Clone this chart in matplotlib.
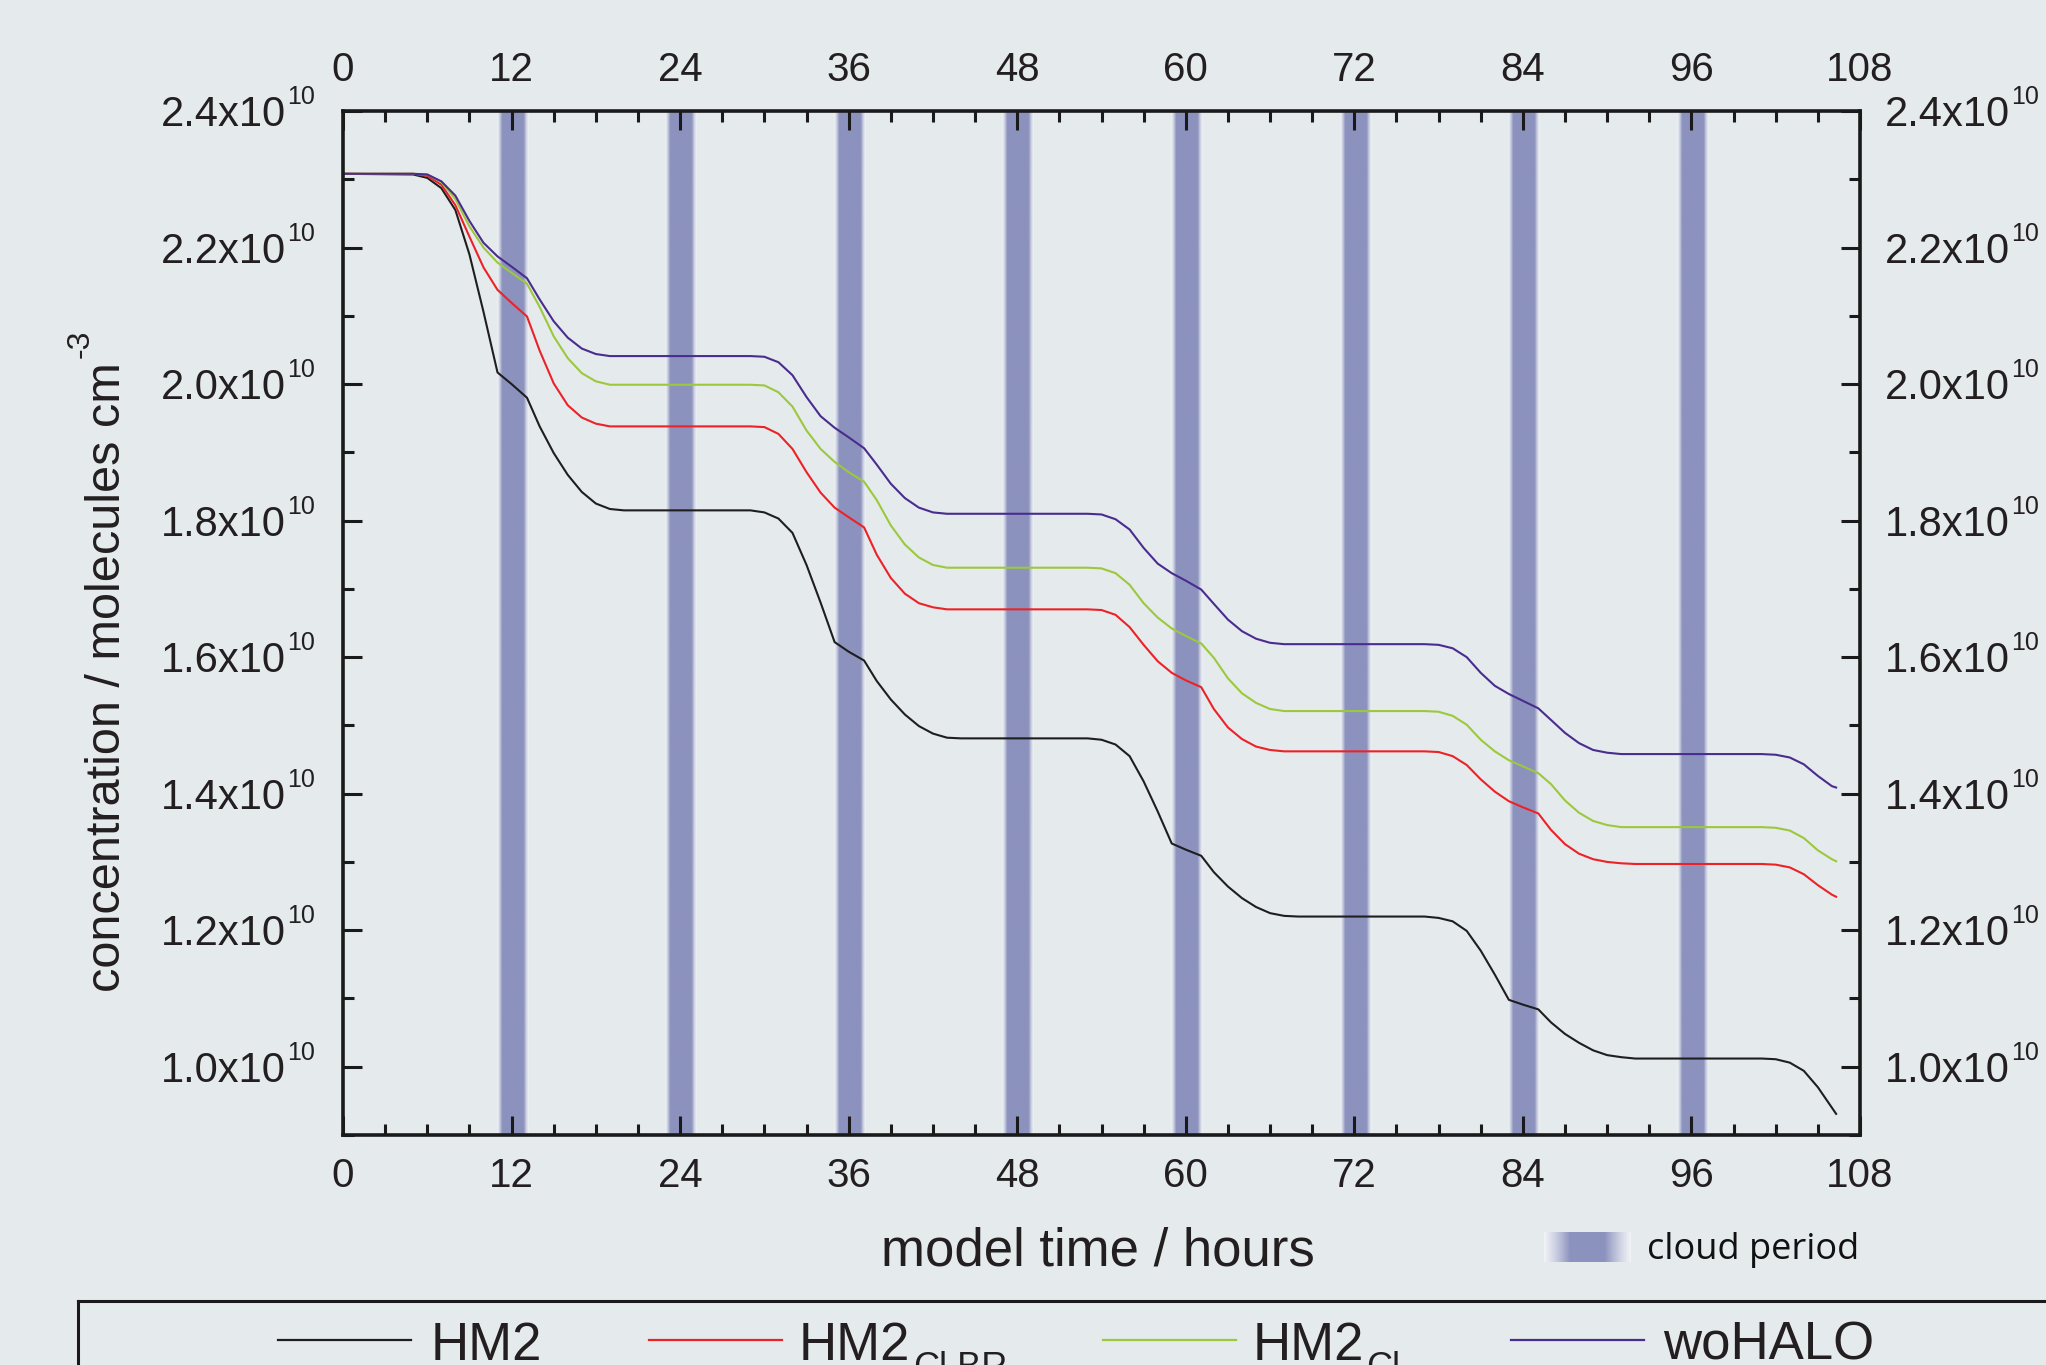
import numpy as np
import matplotlib
matplotlib.use("Agg")
import matplotlib.pyplot as plt
from matplotlib.lines import Line2D

# ---------------- data (concentration in units of 1e10 molecules cm^-3) ----------------
hours = [0,
         5, 6, 7, 8, 9, 10, 11, 12, 13.1, 14, 15, 16, 17, 18, 19, 20,
         29, 30, 31, 32, 33, 34, 35, 36, 37.1, 38, 39, 40, 41, 42, 43, 44,
         53, 54, 55, 56, 57, 58, 59, 60, 61.1, 62, 63, 64, 65, 66, 67, 68,
         77, 78, 79, 80, 81, 82, 83, 84, 85.1, 86, 87, 88, 89, 90, 91, 92,
         101, 102, 103, 104, 105, 106, 106.3]

hm2 = [2.308,
       2.307, 2.302, 2.287, 2.255, 2.190, 2.106, 2.017, 2.000, 1.980, 1.938, 1.899, 1.867, 1.842, 1.825, 1.817, 1.815,
       1.815, 1.812, 1.803, 1.782, 1.735, 1.680, 1.622, 1.608, 1.595, 1.565, 1.538, 1.516, 1.499, 1.488, 1.482, 1.481,
       1.481, 1.479, 1.472, 1.455, 1.418, 1.374, 1.327, 1.318, 1.309, 1.285, 1.264, 1.247, 1.234, 1.225, 1.221, 1.220,
       1.220, 1.218, 1.213, 1.199, 1.170, 1.135, 1.098, 1.091, 1.084, 1.065, 1.048, 1.035, 1.024, 1.017, 1.014, 1.012,
       1.012, 1.011, 1.006, 0.994, 0.970, 0.940, 0.931]

hm2_clbr = [2.308,
            2.308, 2.305, 2.292, 2.262, 2.216, 2.171, 2.138, 2.119, 2.099, 2.049, 2.001, 1.969, 1.951, 1.942, 1.938, 1.938,
            1.938, 1.937, 1.927, 1.905, 1.871, 1.841, 1.819, 1.805, 1.790, 1.750, 1.716, 1.693, 1.679, 1.673, 1.670, 1.670,
            1.670, 1.669, 1.662, 1.644, 1.618, 1.594, 1.577, 1.566, 1.556, 1.524, 1.497, 1.480, 1.469, 1.464, 1.462, 1.462,
            1.462, 1.461, 1.455, 1.442, 1.421, 1.403, 1.389, 1.380, 1.371, 1.347, 1.326, 1.312, 1.304, 1.300, 1.298, 1.297,
            1.297, 1.296, 1.292, 1.282, 1.266, 1.252, 1.249]

hm2_cl = [2.308,
          2.308, 2.307, 2.296, 2.271, 2.231, 2.200, 2.178, 2.163, 2.147, 2.113, 2.070, 2.038, 2.016, 2.004, 1.999, 1.999,
          1.999, 1.998, 1.988, 1.967, 1.932, 1.905, 1.886, 1.871, 1.857, 1.830, 1.793, 1.765, 1.746, 1.735, 1.731, 1.731,
          1.731, 1.730, 1.723, 1.706, 1.679, 1.658, 1.642, 1.631, 1.620, 1.599, 1.569, 1.547, 1.533, 1.524, 1.521, 1.521,
          1.521, 1.520, 1.514, 1.501, 1.479, 1.462, 1.449, 1.440, 1.430, 1.414, 1.390, 1.372, 1.360, 1.354, 1.351, 1.351,
          1.351, 1.350, 1.346, 1.335, 1.317, 1.304, 1.301]

wohalo = [2.308,
          2.308, 2.307, 2.297, 2.276, 2.239, 2.207, 2.187, 2.172, 2.155, 2.124, 2.092, 2.068, 2.052, 2.044, 2.041, 2.041,
          2.041, 2.040, 2.032, 2.013, 1.981, 1.953, 1.936, 1.922, 1.906, 1.882, 1.854, 1.833, 1.819, 1.812, 1.810, 1.810,
          1.810, 1.809, 1.802, 1.787, 1.760, 1.737, 1.723, 1.712, 1.699, 1.678, 1.655, 1.638, 1.627, 1.621, 1.619, 1.619,
          1.619, 1.618, 1.613, 1.600, 1.577, 1.558, 1.546, 1.536, 1.525, 1.508, 1.489, 1.474, 1.464, 1.460, 1.458, 1.458,
          1.458, 1.457, 1.453, 1.443, 1.426, 1.411, 1.409]

cloud_start = [10.95, 22.95, 34.95, 46.95, 58.95, 70.95, 82.95, 94.95]
cloud_end = [13.2, 25.2, 37.2, 49.2, 61.2, 73.2, 85.2, 97.2]

x_ticks = [0, 12, 24, 36, 48, 60, 72, 84, 96, 108]
y_ticks = [1.0, 1.2, 1.4, 1.6, 1.8, 2.0, 2.2, 2.4]
y_tick_labels = ["1.0x10", "1.2x10", "1.4x10", "1.6x10", "1.8x10", "2.0x10", "2.2x10", "2.4x10"]
y_tick_exp = "10"

series_names = ["HM2", "HM2", "HM2", "woHALO"]
series_subs = ["", "Cl,BR", "Cl", ""]
series_colors = ["#1e1e1e", "#ec2227", "#9cc83c", "#4a2c8e"]

# ---------------- styling ----------------
BG = "#e5eaed"
TXT = "#231f20"
FONT = "Liberation Sans"
plt.rcParams["font.family"] = [FONT, "DejaVu Sans"]

W, H = 2046, 1365
fig = plt.figure(figsize=(W / 100, H / 100), dpi=100, facecolor=BG)

ax = fig.add_axes([343 / W, 1 - 1135 / H, (1860 - 343) / W, (1135 - 111) / H])
ax.patch.set_alpha(0)

# cloud bands with soft gradient edges
core = np.array([140, 146, 190]) / 255.0
n = 200
u = np.linspace(0, 1, n)
d = np.minimum(u, 1 - u) * 2
w = np.clip(d / 0.32, 0, 1) ** 0.9
rgba = np.zeros((1, n, 4))
rgba[0, :, :3] = (1 - w)[:, None] * np.array([1, 1, 1]) + w[:, None] * core
rgba[0, :, 3] = 0.35 + 0.65 * w

ymin, ymax = 0.9, 2.4
for s, e in zip(cloud_start, cloud_end):
    ax.imshow(rgba, extent=(s, e, ymin, ymax), aspect="auto", zorder=1,
              interpolation="bilinear")

for vals, col in zip([hm2, hm2_clbr, hm2_cl, wohalo], series_colors):
    ax.plot(hours, vals, color=col, lw=1.5, zorder=3)

ax.set_xlim(0, 108)
ax.set_ylim(ymin, ymax)

for sp in ax.spines.values():
    sp.set_linewidth(2.6)
    sp.set_color("#1a1a1a")
    sp.set_zorder(5)

ax.set_xticks(x_ticks)
ax.set_xticks(np.arange(0, 109, 3), minor=True)
ax.set_xticklabels([str(t) for t in x_ticks])
ax.set_yticks(y_ticks)
ax.set_yticks(np.arange(0.9, 2.41, 0.1), minor=True)
ax.set_yticklabels([])

ax.tick_params(axis="x", which="both", direction="in", top=True, bottom=True,
               labeltop=True, labelbottom=True, colors="#1a1a1a", labelcolor=TXT,
               labelsize=29)
ax.tick_params(axis="x", which="major", length=14, width=2.2)
ax.tick_params(axis="x", which="minor", length=8, width=2.2)
ax.tick_params(axis="y", which="both", direction="in", left=True, right=True,
               colors="#1a1a1a")
ax.tick_params(axis="y", which="major", length=14, width=2.2)
ax.tick_params(axis="y", which="minor", length=8, width=2.2)
for t in ax.xaxis.get_major_ticks():
    t.set_pad(16)

# y tick labels (left and right) built from main text + small superscript
for v, lab in zip(y_ticks, y_tick_labels):
    ax.annotate(lab, xy=(0, v), xycoords=("axes fraction", "data"),
                xytext=(-41, -10.8), textcoords="offset points",
                ha="right", va="baseline", fontsize=30, color=TXT, annotation_clip=False)
    ax.annotate(y_tick_exp, xy=(0, v), xycoords=("axes fraction", "data"),
                xytext=(-40, 5), textcoords="offset points",
                ha="left", va="baseline", fontsize=18, color=TXT, annotation_clip=False)
    ax.annotate(lab, xy=(1, v), xycoords=("axes fraction", "data"),
                xytext=(18, -10.8), textcoords="offset points",
                ha="left", va="baseline", fontsize=30, color=TXT, annotation_clip=False)
    ax.annotate(y_tick_exp, xy=(1, v), xycoords=("axes fraction", "data"),
                xytext=(109, 5), textcoords="offset points",
                ha="left", va="baseline", fontsize=18, color=TXT, annotation_clip=False)

# axis labels
fig.text(881 / W, 1 - 1252 / H, "model time / hours", fontsize=38, color=TXT,
         ha="left", va="center")
fig.text(108 / W, 1 - 992 / H, "concentration / molecules cm",
         fontsize=35, color=TXT, rotation=90, ha="center", va="bottom")
fig.text(81 / W, 1 - 358 / H, "-3", fontsize=23, color=TXT, rotation=90,
         ha="center", va="bottom")

# cloud period legend
cax = fig.add_axes([1544 / W, 1 - 1262 / H, 87 / W, 30 / H])
prof = np.zeros((1, n, 4))
ww = np.clip(np.minimum(u, 1 - u) * 2 / 0.6, 0, 1) ** 0.8
prof[0, :, :3] = (1 - ww)[:, None] * np.array([1, 1, 1]) + ww[:, None] * core
prof[0, :, 3] = 0.5 + 0.5 * ww
cax.imshow(prof, aspect="auto", interpolation="bilinear")
cax.axis("off")
fig.text(1647 / W, 1 - 1250 / H, "cloud period", fontsize=26, color="#111111",
         family=["Open Sans", "DejaVu Sans"], ha="left", va="center")

# bottom legend box
fig.add_artist(Line2D([78 / W, 1.0], [1 - 1301 / H, 1 - 1301 / H], color="#1a1a1a", lw=2.2,
                      transform=fig.transFigure))
fig.add_artist(Line2D([78 / W, 78 / W], [1 - 1301 / H, 0], color="#1a1a1a", lw=2.2,
                      transform=fig.transFigure))
line_x0 = [278, 649, 1103, 1511]
text_x0 = [431, 799, 1253, 1663]
sub_x0 = [None, 913, 1366, None]
ly = 1 - 1340 / H
for name, sub, col, lx, tx, sx in zip(series_names, series_subs, series_colors, line_x0, text_x0, sub_x0):
    fig.add_artist(Line2D([lx / W, (lx + 133) / W], [ly, ly], color=col, lw=1.6,
                          transform=fig.transFigure))
    fig.text(tx / W, 1 - 1360 / H, name, fontsize=38, color=TXT, ha="left", va="baseline")
    if sub:
        fig.text(sx / W, 1 - 1378 / H, sub, fontsize=26, color=TXT, ha="left", va="baseline")

fig.savefig("out.png", dpi=100, facecolor=BG)
